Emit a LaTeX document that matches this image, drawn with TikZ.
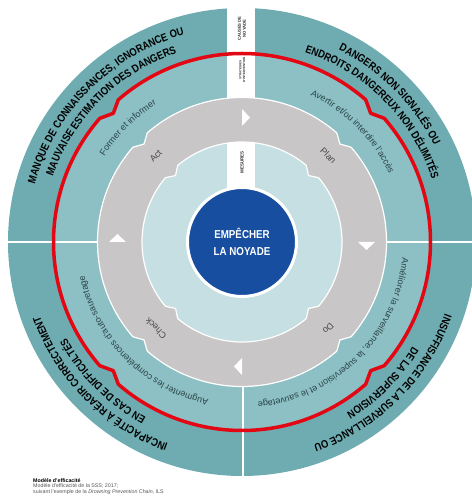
\documentclass[tikz,border=0pt]{standalone}
\usepackage{fontspec}
\setmainfont{Liberation Sans}
\newfontfamily\condfam[FakeStretch=0.85]{Liberation Sans}
\usetikzlibrary{decorations.text}
\definecolor{tealdark}{HTML}{6FACB1}
\definecolor{teallight}{HTML}{8DC0C4}
\definecolor{ringgray}{HTML}{C8C6C6}
\definecolor{paleblue}{HTML}{C6DFE2}
\definecolor{coreblue}{HTML}{174EA0}
\definecolor{alertred}{HTML}{E30613}
\definecolor{strattxt}{HTML}{2A4448}
\definecolor{pdcatxt}{HTML}{4A4A4A}
\definecolor{captgray}{HTML}{555555}
\newcommand\causefont{\condfam\bfseries\fontsize{11}{11}\selectfont}
\newcommand\stratfont{\fontsize{9}{9}\selectfont}
\newcommand\dentpath[3]{(45+#3:#1) \foreach \a in {135,225,315,405} { arc[start angle=\a-90+#3, end angle=\a-#3, radius=#1] -- (\a:#1-#2) -- (\a+#3:#1) } -- cycle}
\begin{document}
\begin{tikzpicture}[x=1pt,y=1pt,
  causetext/.style={decorate, decoration={text along path, text align=center, text color=black, text={|\causefont|#1}}},
  strattext/.style={decorate, decoration={text along path, text align=center, text color=strattxt, text={|\stratfont|#1}}},
  pdca/.style={font=\fontsize{9}{9}\selectfont, text=pdcatxt, inner sep=0pt},
  striplabel/.style 2 args={font=\bfseries\fontsize{#1}{#2}\selectfont, text=black!80, align=center, inner sep=0pt, rotate=90},
  sep/.style={white, line width=2pt},
]
\useasboundingbox (-242,-260) rectangle (229,242);
% rings
\fill[tealdark] (0,0) circle[radius=234pt];
\fill[teallight] \dentpath{188.5pt}{7pt}{4};
\fill[paleblue] (0,0) circle[radius=101pt];
% separators
\draw[sep] (-240,0) -- (-140,0);
\draw[sep] (140,0) -- (240,0);
\draw[sep] (1,-140) -- (1,-240);
\fill[white] (-15,40) rectangle (13,240);
% PDCA ring
\fill[ringgray, even odd rule] \dentpath{144.5pt}{6pt}{4} \dentpath{100pt}{6pt}{5};
\draw[white, line width=1.2pt, line join=round] \dentpath{144.5pt}{6pt}{4} \dentpath{100pt}{6pt}{5};
% red line
\draw[alertred, line width=3.5pt, line join=round] \dentpath{188.5pt}{6.5pt}{4};
% arrow triangles
\foreach \k in {0,1,2,3}
  \fill[white, rotate=-90*\k] (0,116) -- (0,133) -- (8,124.5) -- cycle;
% core
\node (core) [circle, fill=coreblue, draw=white, line width=3pt, minimum size=109pt, inner sep=0pt,
  align=center, text=white, font=\condfam\bfseries\fontsize{11.5}{16.5}\selectfont] at (0,0) {EMPÊCHER\\LA NOYADE};
% strip labels
\node (causes) [striplabel={4.2}{5}] at (0,213.5) {CAUSES DE\\NOYADE};
\node (strat) [striplabel={3}{3.8}] at (0,172) {STRATÉGIES\\D’INTERVENTION};
\node (mesures) [striplabel={4.5}{5}] at (0,79.5) {MESURES};
% PDCA labels
\node (plan) [pdca, rotate=-45] at (45:122pt) {Plan};
\node (act) [pdca, rotate=45] at (135:122pt) {Act};
\node (check) [pdca, rotate=135] at (225:122pt) {Check};
\node (do) [pdca, rotate=-135] at (-45:122pt) {Do};
% cause texts
\path[causetext={MANQUE DE CONNAISSANCES, IGNORANCE OU}] (180:215pt) arc[start angle=180, end angle=90, radius=215pt];
\path[causetext={MAUVAISE ESTIMATION DES DANGERS}] (180:200pt) arc[start angle=180, end angle=90, radius=200pt];
\path[causetext={DANGERS NON SIGNALÉS OU}] (90:215pt) arc[start angle=90, end angle=0, radius=215pt];
\path[causetext={ENDROITS DANGEREUX NON DÉLIMITÉS}] (90:200pt) arc[start angle=90, end angle=0, radius=200pt];
\path[causetext={INSUFFISANCE DE LA SURVEILLANCE OU}] (0:215pt) arc[start angle=0, end angle=-90, radius=215pt];
\path[causetext={DE LA SUPERVISION}] (0:200pt) arc[start angle=0, end angle=-90, radius=200pt];
\path[causetext={INCAPACITÉ À RÉAGIR CORRECTEMENT}] (270:215pt) arc[start angle=270, end angle=180, radius=215pt];
\path[causetext={EN CAS DE DIFFICULTÉS}] (270:200pt) arc[start angle=270, end angle=180, radius=200pt];
% strategy texts
\path[strattext={Former et informer}] (180:162pt) arc[start angle=180, end angle=90, radius=162pt];
\path[strattext={Avertir et/ou interdire l’accès}] (90:162pt) arc[start angle=90, end angle=0, radius=162pt];
\path[strattext={Améliorer la surveillance, la supervision et le sauvetage}] (2:161pt) arc[start angle=2, end angle=-92, radius=161pt];
\path[strattext={Augmenter les compétences d’auto-sauvetage}] (272:161pt) arc[start angle=272, end angle=178, radius=161pt];
% caption
\node (caption) [anchor=north west, align=left, inner sep=0pt, font=\fontsize{5.3}{5.9}\selectfont] at (-209,-236)
  {\textbf{Modèle d’efficacité}\\
   \textcolor{captgray}{Modèle d’efficacité de la SSS; 2017;}\\
   \textcolor{captgray}{suivant l’exemple de la \textit{Drowning Prevention Chain}, ILS}};
\end{tikzpicture}
\end{document}
